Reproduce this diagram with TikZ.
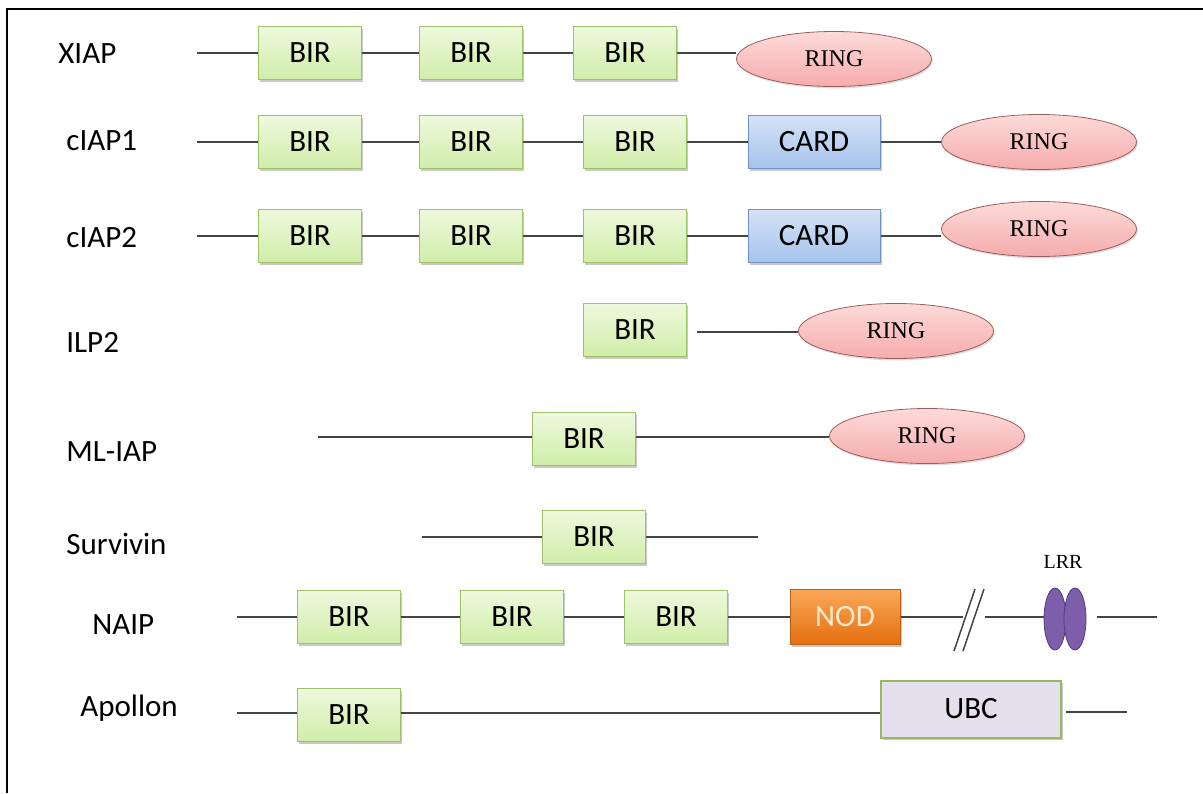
\documentclass[tikz,border=0pt]{standalone}
\usepackage{fontspec}
\setmainfont{Carlito}
\newfontfamily\ringfont{Liberation Serif}
\usepackage{tikz}
\usetikzlibrary{shapes.geometric,shadows,positioning,backgrounds}
\usepackage{xcolor}
\definecolor{birtop}{RGB}{238,249,222}
\definecolor{birbot}{RGB}{208,237,168}
\definecolor{birline}{RGB}{158,194,108}
\definecolor{cardtop}{RGB}{212,227,247}
\definecolor{cardbot}{RGB}{166,195,236}
\definecolor{cardline}{RGB}{112,146,198}
\definecolor{ringtop}{RGB}{253,218,218}
\definecolor{ringbot}{RGB}{246,172,172}
\definecolor{ringline}{RGB}{158,92,92}
\definecolor{nodtop}{RGB}{250,168,88}
\definecolor{nodbot}{RGB}{228,110,14}
\definecolor{nodline}{RGB}{188,96,22}
\definecolor{nodtext}{RGB}{252,232,205}
\definecolor{ubcfill}{RGB}{228,223,236}
\definecolor{ubcline}{RGB}{150,186,92}
\definecolor{lrrfill}{RGB}{124,94,170}
\definecolor{lrrline}{RGB}{84,60,130}
\definecolor{chaingray}{RGB}{68,68,68}

\begin{document}
\begin{tikzpicture}[x=0.5pt, y=-0.5pt,
    dombox/.style={rectangle, inner sep=0pt, minimum height=26.5pt,
        font=\fontsize{15.5}{17}\selectfont,
        drop shadow={shadow xshift=0.8pt, shadow yshift=-1.1pt, opacity=0.3, fill=black!70}},
    bir/.style={dombox, draw=birline, top color=birtop, bottom color=birbot, minimum width=51.5pt},
    card/.style={dombox, draw=cardline, top color=cardtop, bottom color=cardbot, minimum width=66pt},
    nod/.style={dombox, draw=nodline, top color=nodtop, bottom color=nodbot, minimum width=55pt,
        minimum height=27.5pt, text=nodtext},
    ubc/.style={dombox, draw=ubcline, line width=1pt, fill=ubcfill, minimum width=90pt,
        minimum height=28.5pt},
    ring/.style={ellipse, draw=ringline, top color=ringtop, bottom color=ringbot, inner sep=0pt,
        minimum width=97.5pt, minimum height=27.5pt, font=\ringfont\fontsize{12}{14}\selectfont,
        drop shadow={shadow xshift=0.6pt, shadow yshift=-0.9pt, opacity=0.2, fill=black!70}},
    lrr/.style={ellipse, draw=lrrline, fill=lrrfill, inner sep=0pt, minimum width=11pt,
        minimum height=31pt},
    chain/.style={draw=chaingray, line width=0.75pt},
    iap/.style={anchor=west, inner sep=0pt, font=\fontsize{15.5}{18}\selectfont}
]
    \useasboundingbox (0,0) rectangle (1203,793);
    \draw[line width=1.3pt] (7,793) -- (7,9) -- (1203,9);

    % XIAP
    \node[iap] (xiapL) at (58,54) {XIAP};
    \coordinate (xiap0) at (197,53);
    \node[bir] (xiap1) at (310,53) {BIR};
    \node[bir] (xiap2) at (471,53) {BIR};
    \node[bir] (xiap3) at (625,53) {BIR};
    \node[ring] (xiapR) at (834,59) {RING};

    % cIAP1
    \node[iap] (ciapAL) at (66,141) {cIAP1};
    \coordinate (ciapA0) at (197,142);
    \node[bir] (ciapA1) at (310,142) {BIR};
    \node[bir] (ciapA2) at (471,142) {BIR};
    \node[bir] (ciapA3) at (635,142) {BIR};
    \node[card] (ciapAC) at (814,142) {CARD};
    \node[ring] (ciapAR) at (1039,142) {RING};

    % cIAP2
    \node[iap] (ciapBL) at (66,238) {cIAP2};
    \coordinate (ciapB0) at (197,236);
    \node[bir] (ciapB1) at (310,236) {BIR};
    \node[bir] (ciapB2) at (471,236) {BIR};
    \node[bir] (ciapB3) at (635,236) {BIR};
    \node[card] (ciapBC) at (814,236) {CARD};
    \node[ring] (ciapBR) at (1039,229) {RING};

    % ILP2
    \node[iap] (ilpL) at (66,342) {ILP2};
    \node[bir] (ilp1) at (635,330) {BIR};
    \coordinate (ilp0) at (697,332);
    \node[ring] (ilpR) at (896,331) {RING};

    % ML-IAP
    \node[iap] (mlL) at (66,452) {ML-IAP};
    \coordinate (ml0) at (318,437);
    \node[bir] (ml1) at (584,439) {BIR};
    \node[ring] (mlR) at (927,436) {RING};

    % Survivin
    \node[iap] (survL) at (66,544) {Survivin};
    \coordinate (surv0) at (422,537);
    \node[bir] (surv1) at (594,537) {BIR};
    \coordinate (surv2) at (758,537);

    % NAIP
    \node[iap] (naipL) at (92,625) {NAIP};
    \coordinate (naip0) at (237,617);
    \node[bir] (naip1) at (349,617) {BIR};
    \node[bir] (naip2) at (512,617) {BIR};
    \node[bir] (naip3) at (676,617) {BIR};
    \node[nod] (naipN) at (845,617) {NOD};
    \coordinate (naipCut) at (963,617);
    \coordinate (naipGo) at (985,617);
    \node[lrr] (lrrA) at (1055,619) {};
    \node[lrr] (lrrB) at (1075,619) {};
    \node[font=\ringfont\fontsize{10}{12}\selectfont] (lrrL) at (1063,562) {LRR};
    \coordinate (naipEnd) at (1157,617);
    \draw[chaingray, line width=0.75pt] (954,651) -- (975,589) (963,651) -- (984,589);

    % Apollon
    \node[iap] (apoL) at (80,708) {Apollon};
    \coordinate (apo0) at (237,713);
    \node[bir] (apo1) at (349,715) {BIR};
    \node[ubc] (apoU) at (971,709) {UBC};
    \coordinate (apoEnd) at (1127,712);

    \begin{scope}[on background layer]
        \draw[chain] (xiap0) -- (xiap1) (xiap1) -- (xiap2) (xiap2) -- (xiap3)
            (xiap3) -- (xiap3 -| xiapR.west);
        \draw[chain] (ciapA0) -- (ciapA1) (ciapA1) -- (ciapA2) (ciapA2) -- (ciapA3)
            (ciapA3) -- (ciapAC) (ciapAC) -- (ciapAR);
        \draw[chain] (ciapB0) -- (ciapB1) (ciapB1) -- (ciapB2) (ciapB2) -- (ciapB3)
            (ciapB3) -- (ciapBC) (ciapBC) -- (ciapBC -| ciapBR.west);
        \draw[chain] (ilp0) -- (ilp0 -| ilpR.west);
        \draw[chain] (ml0) -- (ml0 -| ml1.west) (ml1.east |- ml0) -- (ml0 -| mlR.west);
        \draw[chain] (surv0) -- (surv1) (surv1) -- (surv2);
        \draw[chain] (naip0) -- (naip1) (naip1) -- (naip2) (naip2) -- (naip3)
            (naip3) -- (naipN) (naipN) -- (naipCut) (naipGo) -- (naipGo -| lrrA.west)
            (naipEnd -| lrrB.east) ++(11,0) -- (naipEnd);
        \draw[chain] (apo0) -- (apo0 -| apo1.west) (apo1.east |- apo0) -- (apo0 -| apoU.west)
            (apoEnd -| apoU.east) ++(4,0) -- (apoEnd);
    \end{scope}
\end{tikzpicture}
\end{document}
